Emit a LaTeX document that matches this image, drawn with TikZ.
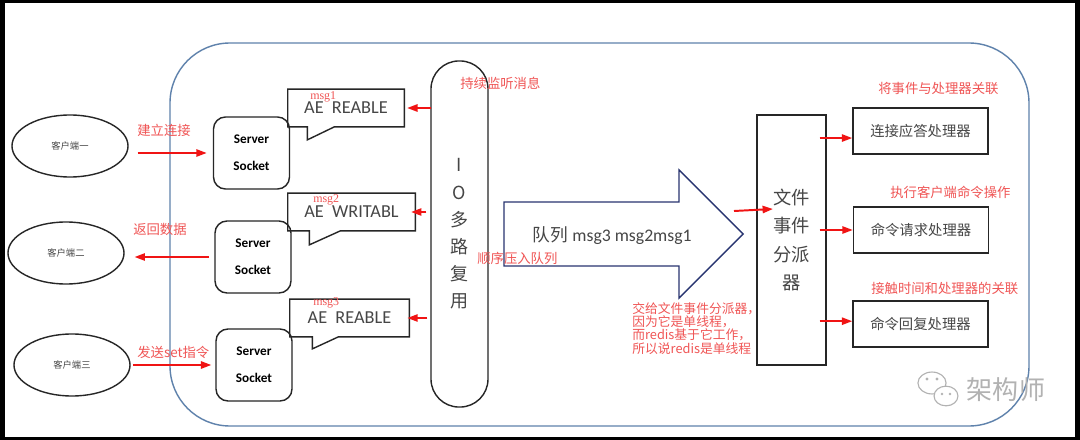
\documentclass[tikz,border=0pt]{standalone}
\usepackage{fontspec}
\usepackage{xcolor}
\usepackage{tikz}
\usetikzlibrary{arrows.meta, positioning, shapes.geometric}
\setmainfont{Carlito}
\newfontfamily\cjk{Noto Sans CJK SC}
\newfontfamily\msgfont{Liberation Serif}
\definecolor{arrowred}{RGB}{240,20,20}
\definecolor{notered}{RGB}{240,85,85}
\definecolor{frameblue}{RGB}{95,130,172}
\definecolor{navy}{RGB}{40,52,112}
\definecolor{txtgray}{RGB}{70,70,70}

\begin{document}
\begin{tikzpicture}[x=0.025cm, y=-0.025cm,
    blk/.style={draw=black!85, line width=1pt},
    client/.style={ellipse, blk, minimum width=2.9cm, minimum height=1.55cm, text=txtgray, font=\cjk\fontsize{6.6}{8}\selectfont},
    sock/.style={blk, rounded corners=0.3cm, minimum width=1.9cm, minimum height=1.8cm, align=center, font=\bfseries\fontsize{9.4}{19.2}\selectfont},
    aebox/.style={minimum height=0.93cm, text=txtgray, font=\fontsize{13}{15}\selectfont},
    handler/.style={blk, minimum width=3.375cm, minimum height=1.15cm, text=txtgray, font=\cjk\fontsize{10.2}{12}\selectfont},
    redarr/.style={draw=arrowred, line width=1.4pt, -{Triangle[length=2.6mm,width=1.8mm]}},
    note/.style={text=notered, inner sep=0pt, anchor=west, font=\cjk\fontsize{9.5}{11}\selectfont},
    msg/.style={text=notered, inner sep=0pt, anchor=west, font=\msgfont\fontsize{8.5}{10}\selectfont}]
    % 黑边与外框
    \fill[black] (0,0) rectangle (1080,440);
    \fill[white] (5,3) rectangle (1075,437);
    \draw[frameblue, line width=1pt, rounded corners=1.5cm] (170,43) rectangle (1029,426);

    % 客户端
    \node[client] (c1) at (70,146) {客户端一};
    \node[client] (c2) at (66,253) {客户端二};
    \node[client] (c3) at (72,365) {客户端三};

    % Server Socket
    \node[sock] (ss1) at (251.5,153) {Server\\Socket};
    \node[sock] (ss2) at (253,257) {Server\\Socket};
    \node[sock] (ss3) at (254,365) {Server\\Socket};

    % 事件气泡
    \node[aebox, minimum width=2.9cm] (cb1) at (346,108) {AE\ \ REABLE};
    \draw[blk] (cb1.south west) |- (cb1.north east) -- (cb1.south east) -- ++(-70,0) -- ++(-27,13) -- ++(0,-13) -- cycle;
    \node[aebox, minimum width=3.175cm] (cb2) at (351.5,212) {AE\ \ WRITABL};
    \draw[blk] (cb2.south west) |- (cb2.north east) -- (cb2.south east) -- ++(-75,0) -- ++(-31,14) -- ++(0,-14) -- cycle;
    \node[aebox, minimum width=2.975cm] (cb3) at (349.5,318) {AE\ \ REABLE};
    \draw[blk] (cb3.south west) |- (cb3.north east) -- (cb3.south east) -- ++(-71,0) -- ++(-26,12) -- ++(0,-12) -- cycle;
    \node[msg] (m1) at (310,97) {msg1};
    \node[msg] (m2) at (313,200) {msg2};
    \node[msg] (m3) at (313,303) {msg3};

    % IO多路复用
    \node[blk, rounded corners=0.7cm, minimum width=1.425cm, minimum height=8.65cm, align=center, text=txtgray,
          font=\cjk\fontsize{12.8}{19.3}\selectfont] (io) at (459.5,234) {I\\O\\多\\路\\复\\用};

    % 队列箭头
    \draw[navy, line width=1pt] (504,202) -- (679,202) -- (679,170) -- (743,234) -- (679,298) -- (679,266) -- (504,266) -- cycle;
    \node[anchor=west, text=txtgray, font=\fontsize{12.6}{15}\selectfont] (queue) at (528,236) {{\cjk 队列} msg3 msg2msg1};

    % 文件事件分派器与处理器
    \node[blk, minimum width=1.725cm, minimum height=6.25cm, align=center, text=txtgray,
          font=\cjk\fontsize{13}{20.1}\selectfont] (disp) at (791.5,240) {文件\\事件\\分派\\器};
    \node[handler] (h1) at (920.5,131) {连接应答处理器};
    \node[handler] (h2) at (921,230) {命令请求处理器};
    \node[handler] (h3) at (920.5,324) {命令回复处理器};

    % 红色箭头
    \draw[redarr, shorten <=6.4pt, shorten >=4.3pt] (c1.east |- ss1.west) -- (ss1.west);
    \draw[redarr, shorten <=3.6pt, shorten >=7pt] (ss2.west) -- (c2.east |- ss2.west);
    \draw[redarr, shorten <=1.5pt, shorten >=2.8pt] (c3.east |- ss3.west) -- (ss3.west);
    \draw[redarr, shorten <=-0.7pt, shorten >=2pt] (io.west |- cb1.east) -- (cb1.east);
    \draw[redarr, shorten <=2.8pt, shorten >=-3pt] (io.west |- cb2.east) -- (cb2.east);
    \draw[redarr, shorten <=2pt, shorten >=-1.4pt] (io.west |- cb3.east) -- (cb3.east);
    \coordinate (qout) at (734,211);
    \coordinate (qin) at (773,209);
    \draw[redarr] (qout) -- (qin);
    \draw[redarr, shorten <=-5pt] ([yshift=-5pt]disp.east |- h1.west) -- ([yshift=-5pt]h1.west);
    \draw[redarr, shorten <=-5pt] (disp.east |- h2.west) -- (h2.west);
    \draw[redarr, shorten <=-5pt] ([yshift=2pt]disp.east |- h3.west) -- ([yshift=2pt]h3.west);

    % 红色说明
    \node[note] (nconn) at (137,130) {建立连接};
    \node[note] (nback) at (133,229) {返回数据};
    \node[note] (nsend) at (137,352) {发送set指令};
    \node[note] (nlisten) at (460,83) {持续监听消息};
    \node[note] (npush) at (477,258) {顺序压入队列};
    \node[note] (nbind) at (878,88) {将事件与处理器关联};
    \node[note] (nexec) at (890,192) {执行客户端命令操作};
    \node[note] (nreply) at (871,288) {接触时间和处理器的关联};
    \node[note, align=left, font=\cjk\fontsize{9.1}{9.3}\selectfont] (nsingle) at (632,328.5)
        {交给文件事件分派器，\\因为它是单线程，\\而redis基于它工作，\\所以说redis是单线程};

    % 水印
    \draw[black!30, line width=0.8pt] (932,383) ellipse (10pt and 7.8pt);
    \draw[black!30, line width=0.8pt, fill=white] (946,396) ellipse (8.5pt and 7pt);
    \fill[black!30] (927,379) circle (1.1pt) (937,379) circle (1.1pt) (942,394) circle (1pt) (950,394) circle (1pt);
    \node[anchor=west, text=black!30, font=\cjk\fontsize{18.5}{20}\selectfont] (wm) at (962,390) {架构师};
\end{tikzpicture}
\end{document}
